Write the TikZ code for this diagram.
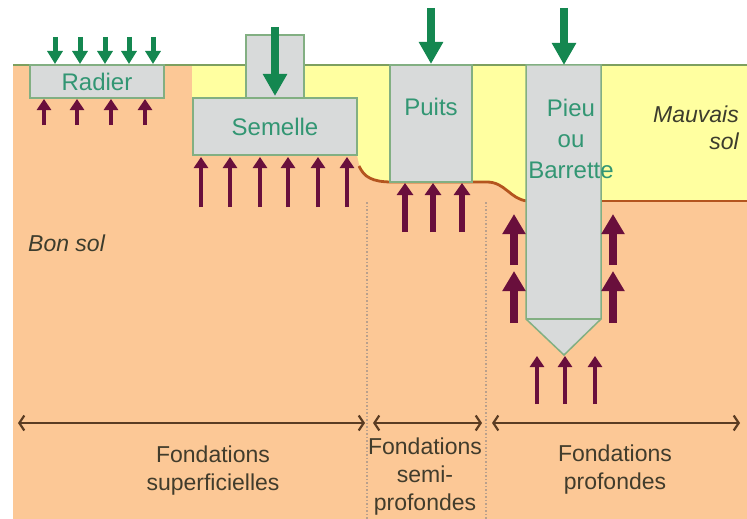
\documentclass[tikz,border=0pt]{standalone}
\usepackage{fontspec}
\setmainfont{Liberation Sans}
\usetikzlibrary{arrows.meta}
\definecolor{goodsoil}{RGB}{252,200,150}
\definecolor{badsoil}{RGB}{255,255,160}
\definecolor{concrete}{RGB}{216,218,218}
\definecolor{edgegreen}{RGB}{130,175,130}
\definecolor{loadgreen}{RGB}{20,135,80}
\definecolor{labelgreen}{RGB}{50,150,115}
\definecolor{reaction}{RGB}{105,15,60}
\definecolor{layerline}{RGB}{180,85,30}
\definecolor{groundline}{RGB}{125,160,95}
\definecolor{scaleline}{RGB}{90,60,35}
\definecolor{soiltext}{RGB}{60,60,45}
\definecolor{sepline}{RGB}{185,160,140}
\tikzset{
  box/.style={draw=edgegreen, line width=1.5pt, fill=concrete, inner sep=0pt, outer sep=0pt,
    text=labelgreen, font=\fontsize{24}{30}\selectfont},
  elemlabel/.style={text=labelgreen, font=\fontsize{24}{31}\selectfont, align=center, inner sep=0pt},
  soillabel/.style={text=soiltext, font=\fontsize{23}{27}\selectfont\itshape, inner sep=0pt},
  zonelabel/.style={text=soiltext!85!scaleline, font=\fontsize{23}{28}\selectfont, align=center, inner sep=0pt},
  gsmall/.style={draw=loadgreen, line width=5pt, -{Triangle[length=13pt,width=15pt]}},
  gbig/.style={draw=loadgreen, line width=7.5pt, -{Triangle[length=22pt,width=23pt]}},
  psmall/.style={draw=reaction, line width=4.5pt, -{Triangle[length=11pt,width=14pt]}},
  pmid/.style={draw=reaction, line width=5.5pt, -{Triangle[length=12pt,width=16pt]}},
  pbig/.style={draw=reaction, line width=8pt, -{Triangle[length=20pt,width=22pt]}},
  span/.style={draw=scaleline, line width=2.5pt, {Straight Barb[length=5pt,width=15pt,line width=2.2pt]}-{Straight Barb[length=5pt,width=15pt,line width=2.2pt]}},
  sep/.style={draw=sepline, line width=1.5pt, dotted}
}
\begin{document}
\begin{tikzpicture}[x=1pt,y=-1pt]
\useasboundingbox (0,0) rectangle (747,519);
\fill[white] (0,0) rectangle (747,519);

% good soil
\fill[goodsoil] (13,65) rectangle (747,519);
% weak upper layer
\fill[badsoil] (192,65) -- (747,65) -- (747,201) -- (527,201)
  .. controls (510,199) and (505,182) .. (487,182) -- (392,182)
  .. controls (372,182) and (363,176) .. (359,164) -- (357,155) -- (192,155) -- cycle;
% layer boundary
\draw[layerline, line width=2.8pt] (359,166) .. controls (364,177) and (372,182) .. (392,182)
  -- (487,182) .. controls (505,182) and (510,199) .. (527,201);
\draw[layerline, line width=2.8pt] (600,201) -- (747,201);
% ground surface
\draw[groundline, line width=2.5pt] (13,65) -- (747,65);

% zone separators
\coordinate (s1t) at (367,202); \coordinate (s1b) at (367,519);
\coordinate (s2t) at (486,202); \coordinate (s2b) at (486,519);
\draw[sep] (s1t) -- (s1b);
\draw[sep] (s2t) -- (s2b);

% foundation elements
\node[box, minimum width=134pt, minimum height=33pt] (radier) at (97,81.5) {Radier};
\node[box, minimum width=58pt, minimum height=63pt] (poteau) at (275,66.5) {};
\node[box, minimum width=164pt, minimum height=57pt] (semelle) at (275,126.5) {Semelle};
\node[box, minimum width=82pt, minimum height=117pt] (puits) at (431,123.5) {};
\node[elemlabel] (puitslbl) at (431,107) {Puits};
\draw[draw=edgegreen, line width=1.5pt, fill=concrete]
  (526,65) -- (601,65) -- (601,319) -- (564,355) -- (526,319) -- cycle;
\draw[draw=edgegreen, line width=1.5pt] (526,319) -- (601,319);
\coordinate (pieutop) at (564,65);
\node[elemlabel] (pieulbl) at (571,139) {Pieu\\ou\\Barrette};

% loads
\foreach \x in {55,80,105,129,153} \draw[gsmall] (\x,37) -- (\x,64);
\draw[gbig] (275,27) -- (275,96);
\draw[gbig] (431,8) -- (431,64);
\draw[gbig] (564,8) -- (pieutop);

% soil reactions
\foreach \x in {44,77,111,145} \draw[psmall] (\x,125) -- (\x,99);
\foreach \x in {201,230,260,288,318,347} \draw[psmall] (\x,207) -- (\x,157);
\foreach \x in {405,433,462} \draw[pmid] (\x,232) -- (\x,183);
\foreach \x in {514,613} {
  \draw[pbig] (\x,265) -- (\x,214);
  \draw[pbig] (\x,323) -- (\x,271);
}
\foreach \x in {537,565,595} \draw[psmall] (\x,404) -- (\x,356);

% soil names
\node[soillabel, anchor=west] (bon) at (28,243) {Bon sol};
\node[soillabel, anchor=east, align=right] (mauvais) at (739,128) {Mauvais\\sol};

% foundation categories
\coordinate (a1) at (18,423); \coordinate (b1) at (365,423);
\coordinate (a2) at (373,423); \coordinate (b2) at (482,423);
\coordinate (a3) at (492,423); \coordinate (b3) at (740,423);
\draw[span] (a1) -- (b1);
\draw[span] (a2) -- (b2);
\draw[span] (a3) -- (b3);
\node[zonelabel] (sup) at (213,471) {Fondations\\superficielles};
\node[zonelabel] (semi) at (425,477) {Fondations\\semi-\\profondes};
\node[zonelabel] (prof) at (615,470) {Fondations\\profondes};
\end{tikzpicture}
\end{document}
